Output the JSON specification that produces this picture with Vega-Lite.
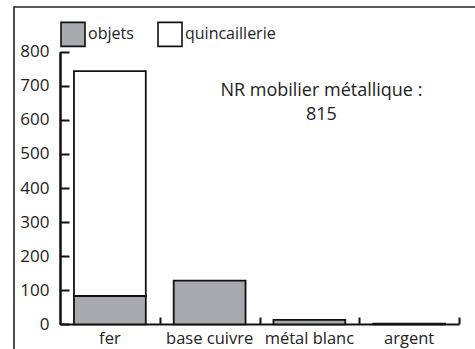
{
  "$schema": "https://vega.github.io/schema/vega-lite/v6.json",
  "autosize": "none",
  "width": 470,
  "height": 350,
  "padding": {"left": 14, "top": 7, "right": 0, "bottom": 0},
  "background": "white",
  "config": {
    "font": "Open Sans",
    "view": {"stroke": "#222", "strokeWidth": 1.6, "fill": "white"},
    "axis": {"domainColor": "#111", "tickColor": "#111", "domainWidth": 2, "tickWidth": 2, "labelColor": "#222", "labelFont": "Open Sans", "labelFontSize": 16, "grid": false, "title": null}
  },
  "resolve": {"axis": {"x": "independent", "y": "independent"}},
  "layer": [
    {
      "data": {"values": [
        {"metal": "fer", "type": "objets", "n": 83},
        {"metal": "fer", "type": "quincaillerie", "n": 660},
        {"metal": "base cuivre", "type": "objets", "n": 128},
        {"metal": "métal blanc", "type": "objets", "n": 13},
        {"metal": "argent", "type": "objets", "n": 2}
      ]},
      "mark": {"type": "bar", "stroke": "#111", "strokeWidth": 1.8},
      "encoding": {
        "x": {"field": "metal", "type": "nominal", "sort": null,
          "scale": {"domain": ["fer", "base cuivre", "métal blanc", "argent"], "range": [46, 445], "paddingInner": 0.28, "paddingOuter": 0.14},
          "axis": {"orient": "bottom", "offset": -33, "ticks": false, "labelPadding": 6, "labelAngle": 0, "labelFontSize": 16.5}},
        "y": {"field": "n", "type": "quantitative", "stack": "zero",
          "scale": {"domain": [0, 800], "nice": false, "range": [317.3, 44.7]},
          "axis": {"orient": "left", "offset": -46, "values": [0, 100, 200, 300, 400, 500, 600, 700, 800], "ticks": false, "labelPadding": 11, "labelFontSize": 17}},
        "color": {"field": "type", "type": "nominal",
          "scale": {"domain": ["objets", "quincaillerie"], "range": ["#a7a9ac", "#ffffff"]},
          "legend": {"orient": "none", "legendX": 46, "legendY": 14, "direction": "horizontal", "title": null,
            "symbolType": "square", "symbolSize": 576, "symbolStrokeColor": "#111", "symbolStrokeWidth": 1.6, "symbolOpacity": 1,
            "labelFontSize": 16, "labelFont": "Open Sans", "labelColor": "#222", "columnPadding": 20, "labelOffset": 2}},
        "order": {"field": "type", "sort": "ascending"}
      }
    },
    {
      "data": {"values": [{"label": "NR mobilier métallique :\n815", "metal": "métal blanc", "pos": 670}]},
      "mark": {"type": "text", "lineBreak": "\n", "fontSize": 18, "lineHeight": 24, "align": "center", "baseline": "alphabetic", "dx": 12, "color": "#222", "font": "Open Sans"},
      "encoding": {
        "x": {"field": "metal", "type": "nominal", "sort": null,
          "axis": {"orient": "top", "offset": -317, "tickSize": 7, "ticks": true, "tickOffset": 49.9, "labels": false, "domain": false}},
        "y": {"field": "pos", "type": "quantitative",
          "axis": {"orient": "right", "offset": -424, "tickSize": 9, "ticks": true, "labels": true, "labelOpacity": 0, "domain": true, "values": [0, 100, 200, 300, 400, 500, 600, 700, 800]}},
        "text": {"field": "label"}
      }
    }
  ]
}
